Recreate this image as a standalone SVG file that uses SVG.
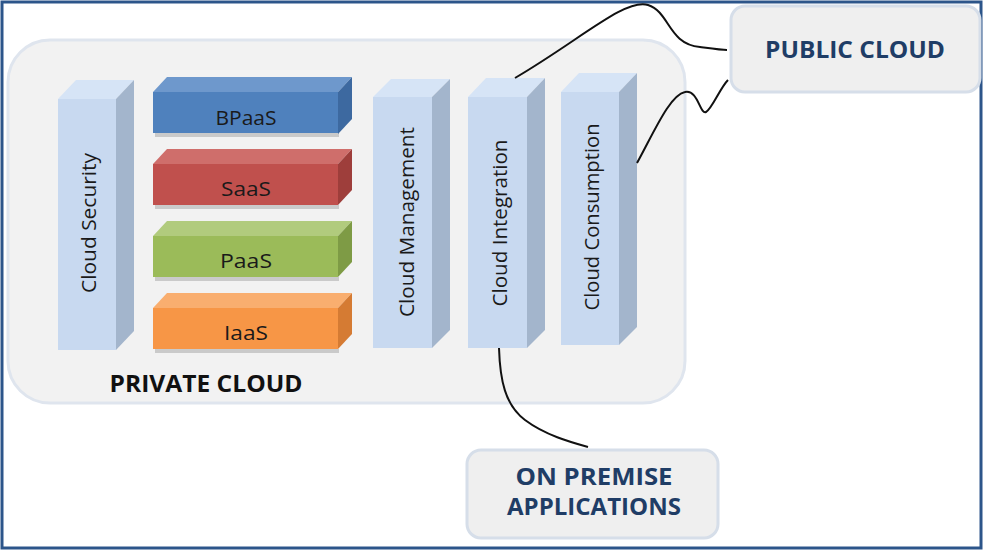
<svg xmlns="http://www.w3.org/2000/svg" width="983" height="550" viewBox="0 0 983 550">
<style>
.lbl{font-family:"Open Sans","Liberation Sans",sans-serif;font-size:20px;fill:#1a1a1a;text-anchor:middle}
.big{font-family:"Open Sans","Liberation Sans",sans-serif;font-size:23px;font-weight:bold;text-anchor:middle}
.pf{fill:#c8d9f0}.pt{fill:#d6e4f6}.ps{fill:#a3b5cc}
.sh{fill:#9a9a9a;opacity:0.45}
.conn{fill:none;stroke:#111;stroke-width:2}
.box{fill:#efefef;stroke:#d6dee9;stroke-width:3}
</style>
<rect x="0" y="0" width="983" height="550" fill="#fff"/>
<rect x="2" y="2" width="979" height="546" fill="none" stroke="#2c558a" stroke-width="3"/>
<g id="private-cloud">
<rect x="8" y="40" width="677" height="363" rx="42" fill="#f2f2f2" stroke="#dfe5ee" stroke-width="3"/>
<text class="big" x="206" y="392" fill="#111" font-size="24" textLength="193" lengthAdjust="spacingAndGlyphs">PRIVATE CLOUD</text>
</g>
<g id="cloud-security">
<polygon class="pt" points="58,99 76,80 134,80 116,99"/>
<polygon class="ps" points="116,99 134,80 134,331 116,350"/>
<rect class="pf" x="58" y="99" width="58" height="251"/>
<text class="lbl" transform="translate(96,223) rotate(-90)" textLength="140" lengthAdjust="spacingAndGlyphs">Cloud Security</text>
</g>
<g id="bpaas">
<rect class="sh" x="155" y="133" width="184" height="4"/>
<polygon points="153,92 167,77 352,77 338,92" fill="#6e98cc"/>
<polygon points="338,92 352,77 352,119 338,134" fill="#3d69a0"/>
<rect x="153" y="92" width="185" height="41" fill="#4f81bd"/>
<text class="lbl" x="246" y="125" textLength="61" lengthAdjust="spacingAndGlyphs">BPaaS</text>
</g>
<g id="saas">
<rect class="sh" x="155" y="205" width="184" height="4"/>
<polygon points="153,164 167,149 352,149 338,164" fill="#cf6e6b"/>
<polygon points="338,164 352,149 352,190 338,205" fill="#9e3e3b"/>
<rect x="153" y="164" width="185" height="41" fill="#c0504d"/>
<text class="lbl" x="246" y="196" textLength="50" lengthAdjust="spacingAndGlyphs">SaaS</text>
</g>
<g id="paas">
<rect class="sh" x="155" y="277" width="184" height="4"/>
<polygon points="153,236 167,221 352,221 338,236" fill="#b1cb7d"/>
<polygon points="338,236 352,221 352,262 338,277" fill="#7e9b45"/>
<rect x="153" y="236" width="185" height="41" fill="#9bbb59"/>
<text class="lbl" x="246" y="268" textLength="52" lengthAdjust="spacingAndGlyphs">PaaS</text>
</g>
<g id="iaas">
<rect class="sh" x="155" y="349" width="184" height="4"/>
<polygon points="153,308 167,293 352,293 338,308" fill="#f9ae6f"/>
<polygon points="338,308 352,293 352,334 338,349" fill="#d57b33"/>
<rect x="153" y="308" width="185" height="41" fill="#f79646"/>
<text class="lbl" x="246" y="340" textLength="44" lengthAdjust="spacingAndGlyphs">IaaS</text>
</g>
<g id="cloud-management">
<polygon class="pt" points="373,97 391,79 450,79 432,97"/>
<polygon class="ps" points="432,97 450,79 450,330 432,348"/>
<rect class="pf" x="373" y="97" width="59" height="251"/>
<text class="lbl" transform="translate(414,222) rotate(-90)" textLength="190" lengthAdjust="spacingAndGlyphs">Cloud Management</text>
</g>
<g id="cloud-integration">
<polygon class="pt" points="468,97 486,78 545,78 527,97"/>
<polygon class="ps" points="527,97 545,78 545,330 527,348"/>
<rect class="pf" x="468" y="97" width="59" height="251"/>
<text class="lbl" transform="translate(507,223) rotate(-90)" textLength="167" lengthAdjust="spacingAndGlyphs">Cloud Integration</text>
</g>
<g id="cloud-consumption">
<polygon class="pt" points="561,92 579,73 637,73 619,92"/>
<polygon class="ps" points="619,92 637,73 637,327 619,345"/>
<rect class="pf" x="561" y="92" width="58" height="253"/>
<text class="lbl" transform="translate(599,217) rotate(-90)" textLength="187" lengthAdjust="spacingAndGlyphs">Cloud Consumption</text>
</g>
<g id="public-cloud">
<rect class="box" x="731" y="6" width="249" height="86" rx="14"/>
<text class="big" x="855" y="58" fill="#1f3d66" textLength="180" lengthAdjust="spacingAndGlyphs">PUBLIC CLOUD</text>
</g>
<g id="on-premise">
<rect class="box" x="467" y="450" width="251" height="88" rx="14"/>
<text class="big" x="594" y="485" fill="#1f3d66" textLength="157" lengthAdjust="spacingAndGlyphs">ON PREMISE</text>
<text class="big" x="594" y="515" fill="#1f3d66" textLength="174" lengthAdjust="spacingAndGlyphs">APPLICATIONS</text>
</g>
<g id="connectors">
<path class="conn" d="M515,78 C580,40 625,-2 648,5 C670,12 668,44 700,47 C715,49 722,50 727,50"/>
<path class="conn" d="M637,163 C655,130 670,95 685,92 C698,89 700,115 706,112 C712,109 720,88 728,80"/>
<path class="conn" d="M499,348 C500,380 505,405 525,420 C545,435 570,442 588,447"/>
</g>
</svg>
